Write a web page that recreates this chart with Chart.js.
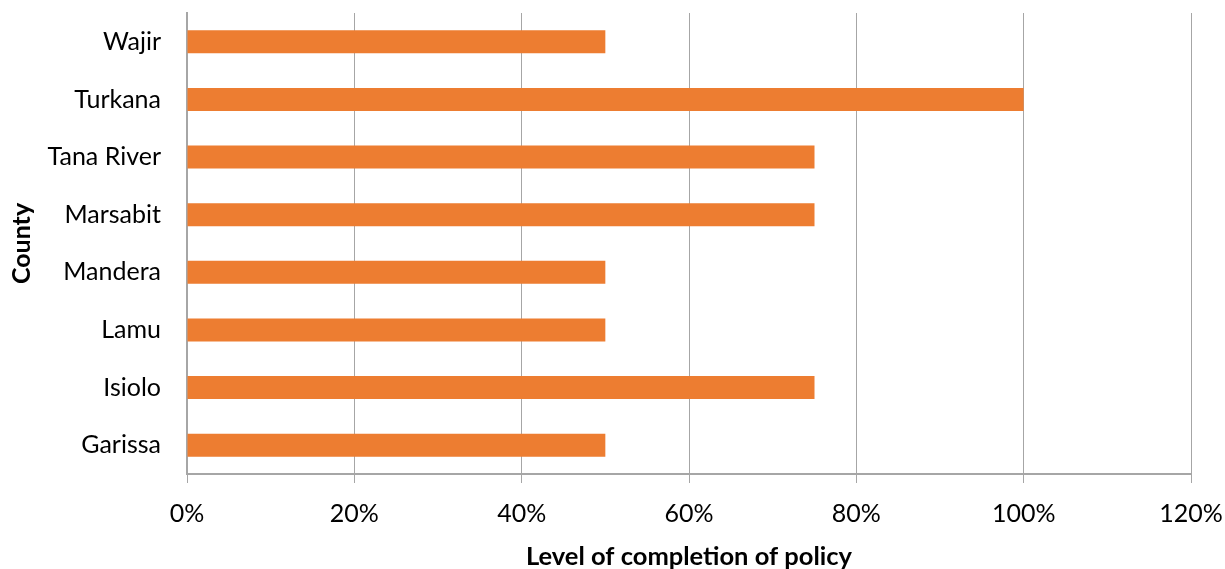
<!DOCTYPE html>
<html>
<head>
<meta charset="utf-8">
<script src="https://cdn.jsdelivr.net/npm/chart.js@4/dist/chart.umd.min.js"></script>
<style>
  html, body { margin: 0; padding: 0; background: #fff; }
  #wrap { width: 1225px; height: 569px; }
</style>
</head>
<body>
<div id="wrap"><canvas id="chart" width="1225" height="569"></canvas></div>
<script>
const counties = ["Wajir", "Turkana", "Tana River", "Marsabit", "Mandera", "Lamu", "Isiolo", "Garissa"];
const completion = [50, 100, 75, 75, 50, 50, 75, 50];
const xTicks = [0, 20, 40, 60, 80, 100, 120];

const FONT = "Lato, 'Open Sans', sans-serif";
const GRID = "#a6a6a6";

const ctx = document.getElementById("chart").getContext("2d");
new Chart(ctx, {
  type: "bar",
  data: {
    labels: counties,
    datasets: [{
      label: "Level of completion of policy",
      data: completion,
      backgroundColor: "#ed7d31",
      borderWidth: 0,
      categoryPercentage: 1,
      barPercentage: 0.4
    }]
  },
  options: {
    indexAxis: "y",
    responsive: false,
    animation: false,
    layout: { padding: { top: 13, right: 34, left: 0, bottom: 0 } },
    plugins: { legend: { display: false }, tooltip: { enabled: false } },
    scales: {
      x: {
        min: xTicks[0],
        max: xTicks[xTicks.length - 1],
        afterFit: function (scale) {
          scale.height = 95;
          scale.paddingLeft = 0;
          scale.paddingRight = 0;
        },
        ticks: {
          stepSize: 20,
          color: "#000",
          padding: 16,
          font: { family: FONT, size: 25 },
          callback: function (v) { return v + "%"; }
        },
        grid: { color: GRID, lineWidth: 1, tickLength: 9, tickColor: GRID },
        border: { color: GRID, width: 2 },
        title: {
          display: true,
          text: "Level of completion of policy",
          color: "#000",
          font: { family: FONT, size: 25.5, weight: "bold" },
          padding: { top: 0, bottom: -3 }
        }
      },
      y: {
        afterFit: function (scale) {
          scale.width = 187;
          // tick padding would otherwise be added above and below the plot
          scale.paddingTop = 0;
          scale.paddingBottom = 0;
        },
        ticks: {
          color: "#000",
          padding: 26,
          font: { family: FONT, size: 25 }
        },
        grid: { display: false, drawTicks: false },
        border: { color: GRID, width: 2 },
        title: {
          display: true,
          text: "County",
          color: "#000",
          font: { family: FONT, size: 25, weight: "bold" },
          padding: { top: 7, bottom: 0 }
        }
      }
    }
  }
});
</script>
</body>
</html>
